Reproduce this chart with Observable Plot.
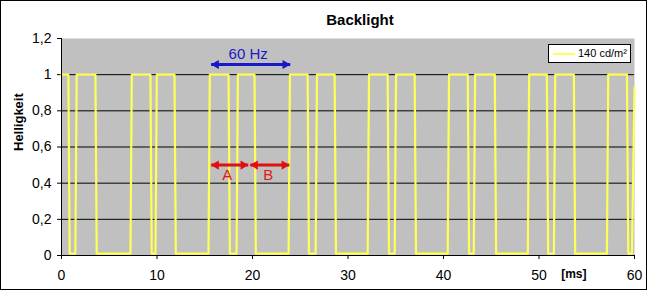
<!DOCTYPE html>
<html><head><meta charset="utf-8">
<script src="https://cdn.jsdelivr.net/npm/d3@7"></script>
<script src="https://cdn.jsdelivr.net/npm/@observablehq/plot@0.6"></script>
<style>
body{margin:0;background:#fff;}
#wrap{position:relative;width:648px;height:291px;font-family:"Liberation Sans",Arial,sans-serif;overflow:hidden;}
#chart svg{position:absolute;left:0;top:0;}
#border{position:absolute;left:0;top:0;width:645px;height:288px;border:1px solid #000;pointer-events:none;}
#legend{position:absolute;left:548px;top:44px;width:81px;height:17px;border:1px solid #000;background:#fff;font-size:11px;}
#legend .sw{position:absolute;left:4px;top:8px;width:22px;height:2px;background:#ffff55;}
#legend .lb{position:absolute;left:29px;top:2px;white-space:nowrap;color:#000;}
</style></head>
<body><div id="wrap"><div id="chart"></div><div id="legend"><span class="sw"></span><span class="lb" id="legLabel"></span></div><div id="border"></div></div>
<script>
const chartTitle = "Backlight";
const yLabel = "Helligkeit";
const xUnit = "[ms]";
const seriesName = "140 cd/m²";
const xTicks = [0, 10, 20, 30, 40, 50, 60];
const yTicks = [0, 0.2, 0.4, 0.6, 0.8, 1, 1.2];
const gridValues = [0.2, 0.4, 0.6, 0.8, 1];

// time in ms and brightness (edge corners)
const timeMs = [
  0, 0.72, 0.86,
  1.45, 1.59, 3.55, 3.69,
  7.22, 7.36, 9.31, 9.45,
  9.84, 9.98, 11.83, 11.97,
  15.39, 15.53, 17.49, 17.63,
  18.33, 18.47, 20.21, 20.35,
  23.78, 23.92, 25.77, 25.91,
  26.61, 26.75, 28.60, 28.74,
  32.06, 32.20, 34.15, 34.29,
  34.89, 35.03, 36.98, 37.12,
  40.44, 40.58, 42.54, 42.68,
  43.17, 43.31, 45.37, 45.51,
  48.83, 48.97, 50.82, 50.96,
  51.56, 51.70, 53.65, 53.79,
  57.11, 57.25, 59.21, 59.35,
  59.73, 60
];
const brightness = [
  1, 1, 0.01,
  0.01, 1, 1, 0.01,
  0.01, 1, 1, 0.01,
  0.01, 1, 1, 0.01,
  0.01, 1, 1, 0.01,
  0.01, 1, 1, 0.01,
  0.01, 1, 1, 0.01,
  0.01, 1, 1, 0.01,
  0.01, 1, 1, 0.01,
  0.01, 1, 1, 0.01,
  0.01, 1, 1, 0.01,
  0.01, 1, 1, 0.01,
  0.01, 1, 1, 0.01,
  0.01, 1, 1, 0.01,
  0.01, 1, 1, 0.01,
  0.01, 0.93
];

// annotations
const arrowStart = [15.67, 15.67, 19.76];
const arrowEnd = [23.95, 19.55, 23.85];
const arrowLevel = [1.056, 0.5, 0.5];
const arrowColor = ["#1818c8", "#e01010", "#e01010"];
const noteText = ["60 Hz", "A", "B"];
const noteX = [19.55, 17.35, 21.65];
const noteY = [1.114, 0.444, 0.444];
const noteColor = ["#1818c8", "#e01818", "#e01818"];

const wave = timeMs.map((t, i) => ({t, v: brightness[i]}));
const arrows = arrowStart.map((x1, i) => ({x1, x2: arrowEnd[i], y: arrowLevel[i], c: arrowColor[i]}));
const notes = noteText.map((s, i) => ({s, x: noteX[i], y: noteY[i], c: noteColor[i]}));
const fmt = d => String(d).replace(".", ",");

document.getElementById("legLabel").textContent = seriesName;

const plot = Plot.plot({
  width: 648, height: 291,
  marginLeft: 61, marginRight: 14, marginTop: 38, marginBottom: 36,
  style: {background: "transparent", fontFamily: '"Liberation Sans", Arial, sans-serif', fontSize: "14px", color: "#000"},
  x: {domain: [0, 60]},
  y: {domain: [0, 1.2]},
  marks: [
    Plot.frame({fill: "#c0c0c0", stroke: "none"}),
    Plot.ruleY(gridValues, {stroke: "#000", strokeWidth: 1}),
    Plot.axisY({ticks: yTicks, tickFormat: fmt, tickSize: 4, tickPadding: 6, label: null, stroke: "#000", fontSize: 14}),
    Plot.axisX({ticks: xTicks, tickSize: 4, tickPadding: 11, label: null, stroke: "#000", fontSize: 14}),
    Plot.line(wave, {x: "t", y: "v", stroke: "#ffff55", strokeWidth: 2.2, strokeLinejoin: "round"}),
    Plot.link(arrows, {x1: "x1", x2: "x2", y1: "y", y2: "y", stroke: "c", strokeWidth: 3}),
    Plot.dot(arrows, {x: "x1", y: "y", symbol: "triangle", r: 3.4, rotate: -90, dx: 5, fill: "c", stroke: "none"}),
    Plot.dot(arrows, {x: "x2", y: "y", symbol: "triangle", r: 3.4, rotate: 90, dx: -5, fill: "c", stroke: "none"}),
    Plot.text(notes, {x: "x", y: "y", text: "s", fill: "c", fontSize: 15}),
    Plot.ruleX([0], {stroke: "#000"}),
    Plot.ruleY([0], {stroke: "#000"}),
    Plot.text([chartTitle], {frameAnchor: "top", dy: -24, fontWeight: "bold", fontSize: 15, text: d => d, dx: 12}),
    Plot.text([yLabel], {frameAnchor: "left", rotate: -90, dx: -43, dy: 4, fontWeight: "bold", fontSize: 13, text: d => d}),
    Plot.text([xUnit], {frameAnchor: "bottom-right", dx: -48, dy: 22, fontWeight: "bold", fontSize: 12, text: d => d})
  ]
});
document.getElementById("chart").appendChild(plot);
</script>
</body></html>
